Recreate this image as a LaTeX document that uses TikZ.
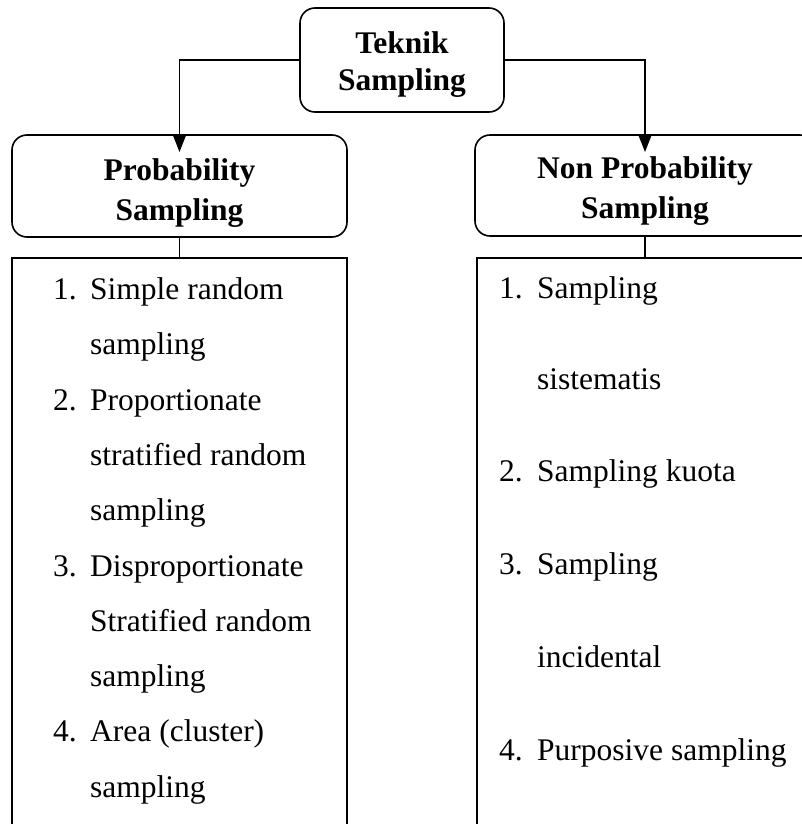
\documentclass[tikz,border=0pt]{standalone}
\usepackage{fontspec}
\setmainfont{Liberation Serif}
\usetikzlibrary{arrows.meta}
\begin{document}
\begin{tikzpicture}[x=1pt,y=-1pt,
  hdrbox/.style={draw,line width=1.6pt,rounded corners=15pt,inner sep=0pt,outer sep=0pt},
  hdrtext/.style={anchor=base,inner sep=0pt,font=\fontsize{31.5}{38}\selectfont\bfseries},
  listbox/.style={draw,line width=1.6pt,inner sep=0pt,outer sep=0pt,anchor=north west},
  lst/.style={anchor=base west,inner sep=0pt,font=\fontsize{31.5}{38}\selectfont},
  conn/.style={line width=1.6pt},
  arr/.style={conn,-{Triangle[length=17pt,width=13pt]}}]
\useasboundingbox (0,0) rectangle (802,824);
\clip (0,0) rectangle (802,824);
% header boxes
\node[hdrbox,minimum width=204pt,minimum height=104pt] (top) at (402,60) {};
\node[hdrbox,minimum width=335pt,minimum height=102pt] (prob) at (179.5,186) {};
\node[hdrbox,minimum width=340pt,minimum height=101pt] (nonprob) at (645,185.5) {};
% header texts
\node[hdrtext] (topa) at (402,54) {Teknik};
\node[hdrtext] (topb) at (402,91) {Sampling};
\node[hdrtext] (proba) at (179.5,180) {Probability};
\node[hdrtext] (probb) at (179.5,220) {Sampling};
\node[hdrtext] (npa) at (645,178) {Non Probability};
\node[hdrtext] (npb) at (645,218) {Sampling};
% list boxes
\node[listbox,minimum width=335pt,minimum height=640pt] (probl) at (12,258) {};
\node[listbox,minimum width=336pt,minimum height=640pt] (nonprobl) at (477,258) {};
% connectors
\coordinate (aL) at ([yshift=-17pt]prob.north);
\coordinate (aR) at ([yshift=-17pt]nonprob.north);
\draw[arr] (top.west) -| (aL);
\draw[arr] (top.east) -| (aR);
\draw[conn] (prob.south) -- (probl.north);
\draw[conn] (nonprob.south) -- (nonprobl.north);
% left list
\node[lst] (L1n) at (53,299) {1.};
\node[lst] (L1a) at (90,299) {Simple random};
\node[lst] (L1b) at (90,354) {sampling};
\node[lst] (L2n) at (53,410) {2.};
\node[lst] (L2a) at (90,410) {Proportionate};
\node[lst] (L2b) at (90,465) {stratified random};
\node[lst] (L2c) at (90,520) {sampling};
\node[lst] (L3n) at (53,576) {3.};
\node[lst] (L3a) at (90,576) {Disproportionate};
\node[lst] (L3b) at (90,631) {Stratified random};
\node[lst] (L3c) at (90,686) {sampling};
\node[lst] (L4n) at (53,741) {4.};
\node[lst] (L4a) at (90,741) {Area (cluster)};
\node[lst] (L4b) at (90,797) {sampling};
% right list
\node[lst] (R1n) at (499,298) {1.};
\node[lst] (R1a) at (537,298) {Sampling};
\node[lst] (R1b) at (537,389) {sistematis};
\node[lst] (R2n) at (499,481) {2.};
\node[lst] (R2a) at (537,481) {Sampling kuota};
\node[lst] (R3n) at (499,574) {3.};
\node[lst] (R3a) at (537,574) {Sampling};
\node[lst] (R3b) at (537,667) {incidental};
\node[lst] (R4n) at (499,760) {4.};
\node[lst] (R4a) at (537,760) {Purposive sampling};
\end{tikzpicture}
\end{document}
